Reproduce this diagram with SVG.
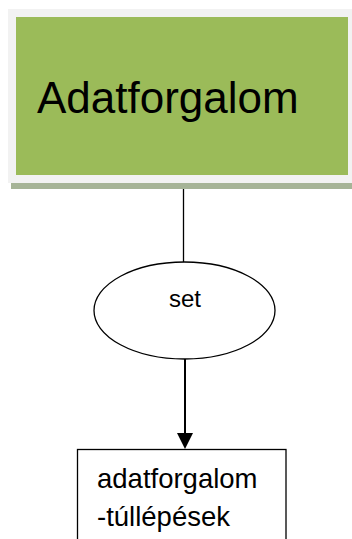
<svg xmlns="http://www.w3.org/2000/svg" width="352" height="539" viewBox="0 0 352 539">
  <style>
    .lbl { font-family: "Liberation Sans", Arial, sans-serif; fill: #000; }
    .outline { fill: #fff; stroke: #000; stroke-width: 1.3; }
    .conn { stroke: #000; fill: none; }
  </style>
  <rect width="352" height="539" fill="#fff"/>

  <!-- connectors -->
  <g id="connectors">
    <line class="conn" x1="183.5" y1="183" x2="183.5" y2="262" stroke-width="1.3"/>
    <line class="conn" x1="185" y1="359" x2="185" y2="434" stroke-width="2"/>
    <path d="M177,433 L193,433 L185,449 Z" fill="#000"/>
  </g>

  <!-- title block -->
  <g id="title">
    <rect x="11" y="183" width="341" height="6" fill="#A6B497"/>
    <rect x="8" y="9" width="344" height="174" fill="#F2F2F2"/>
    <rect x="16" y="17" width="332" height="158" fill="#9BBB59"/>
    <text class="lbl" x="37" y="113" font-size="44">Adatforgalom</text>
  </g>

  <!-- decision ellipse -->
  <g id="set">
    <ellipse class="outline" cx="184.5" cy="310.5" rx="90.5" ry="48.5"/>
    <text class="lbl" x="185" y="307" font-size="24" text-anchor="middle">set</text>
  </g>

  <!-- result box -->
  <g id="result">
    <rect class="outline" x="77.5" y="449.5" width="208.5" height="100"/>
    <text class="lbl" x="97" y="488" font-size="27.5">adatforgalom</text>
    <text class="lbl" x="97" y="526" font-size="27.5">-túllépések</text>
  </g>
</svg>
